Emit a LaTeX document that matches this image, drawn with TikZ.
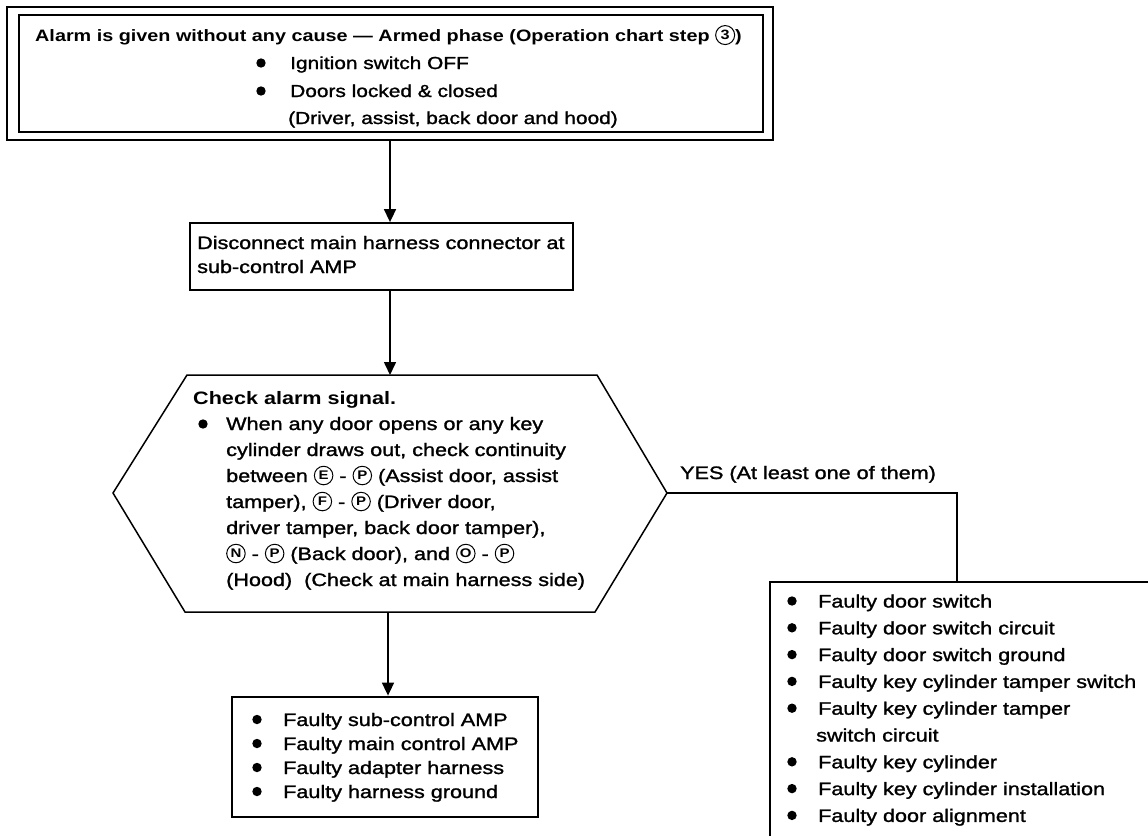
\documentclass[tikz,border=0pt]{standalone}
\usepackage{fontspec}
\setmainfont[FakeStretch=1.2,UprightFeatures={FakeBold=1.4}]{Liberation Sans}
\usetikzlibrary{calc,arrows.meta}
\newcommand\bodyf{\fontsize{18}{21}\selectfont}
\newcommand\topf{\fontsize{17.4}{20}\selectfont}
\newcommand\titf{\fontsize{16.5}{19}\selectfont\bfseries}
\newcommand\cl[1]{\tikz[baseline={([yshift=-0.36em]current bounding box.center)}]\node[draw,circle,line width=1pt,inner sep=0pt,minimum size=18.5pt,font=\fontsize{12.5}{12.5}\selectfont\bfseries]{#1};}
\newcommand\clb[1]{\tikz[baseline={([yshift=-0.36em]current bounding box.center)}]\node[draw,circle,line width=1pt,inner sep=0pt,minimum size=19pt,font=\fontsize{13.5}{13.5}\selectfont]{#1};}
\tikzset{
  box/.style={draw,line width=1.8pt,inner sep=0pt},
  heavy/.style={draw,line width=2.8pt,inner sep=0pt},
  ln/.style={anchor=base west,inner sep=0pt,font=\bodyf},
  tln/.style={anchor=base west,inner sep=0pt,font=\topf},
  arr/.style={line width=1.6pt,-{Triangle[width=12pt,length=13pt]}},
  con/.style={line width=1.6pt}
}
\begin{document}
\begin{tikzpicture}[x=1pt,y=-1pt]
\useasboundingbox (0,0) rectangle (1148,835);
\clip (0,0) rectangle (1148,835);
\fill[white] (0,0) rectangle (1148,835);

% top box (double frame)
\node[box,line width=2.2pt,minimum width=744pt,minimum height=117pt] (top) at (391,73.5) {};
\draw[line width=1.4pt] ($(top.north west)+(-11,-7)$) rectangle ($(top.south east)+(9,7)$);
\coordinate (ob) at ($(top.south)+(0,7)$);
\node[anchor=base west,inner sep=0pt,font=\titf] (tt) at (35,41) {Alarm is given without any cause — Armed phase (Operation chart step \clb{3})};
\node[tln] (ta) at (290,69) {Ignition switch OFF};
\node[tln] (tb) at (290,97) {Doors locked \& closed};
\node[tln] (tc) at (288,124) {(Driver, assist, back door and hood)};
\fill (261,63) circle (4.7);
\fill (261,91) circle (4.7);

% box 2
\node[box,minimum width=383pt,minimum height=67pt] (b2) at (381.5,256.5) {};
\node[ln] (b2a) at (197,249) {Disconnect main harness connector at};
\node[ln] (b2b) at (197,273) {sub-control AMP};

% hexagon
\coordinate (hT) at (390,375);
\coordinate (hB) at (388,612);
\coordinate (hR) at (667,493);
\coordinate (hL) at (113,493);
\draw[line width=1.5pt,line join=miter] (187,375) -- (597,375) -- (hR) -- (595,612) -- (185,612) -- (hL) -- cycle;
\node[ln,font=\bodyf\bfseries] (h0) at (193,404) {Check alarm signal.};
\fill (203,424) circle (4.7);
\node[ln] (h1) at (226,430) {When any door opens or any key};
\node[ln] (h2) at (226,456) {cylinder draws out, check continuity};
\node[ln] (h3) at (226,482) {between \cl{E} - \cl{P} (Assist door, assist};
\node[ln] (h4) at (226,508) {tamper), \cl{F} - \cl{P} (Driver door,};
\node[ln] (h5) at (226,534) {driver tamper, back door tamper),};
\node[ln] (h6) at (226,560) {\cl{N} - \cl{P} (Back door), and \cl{O} - \cl{P}};
\node[ln] (h7) at (226,586) {(Hood)\ \ (Check at main harness side)};

% bottom box
\node[heavy,minimum width=306pt,minimum height=120pt] (bb) at (385,757) {};
\foreach \t [count=\i] in {Faulty sub-control AMP,Faulty main control AMP,Faulty adapter harness,Faulty harness ground}{
  \node[ln] (bl\i) at (283,702+24*\i) {\t};
  \fill (257,695.5+24*\i) circle (4.7);
}

% right box
\node[heavy,minimum width=400pt,minimum height=280pt] (rb) at (970,722) {};
\coordinate (yc) at (957,493);
\node[ln] (yes) at (680,479) {YES (At least one of them)};
\foreach \t/\j in {Faulty door switch/0,Faulty door switch circuit/1,Faulty door switch ground/2,Faulty key cylinder tamper switch/3,Faulty key cylinder tamper/4,Faulty key cylinder/6,Faulty key cylinder installation/7,Faulty door alignment/8}{
  \node[ln] (r\j) at (818,607.5+26.8*\j) {\t};
  \fill (792,601+26.8*\j) circle (4.7);
}
\node[ln] (r5) at (816,741.5) {switch circuit};

% connectors
\draw[arr] (ob -| hT) -- (hT |- b2.north);
\draw[arr] (b2.south -| hT) -- (hT);
\draw[arr] (hB) -- (hB |- bb.north);
\draw[con] (hR) -- (yc) -- (yc |- rb.north);
\end{tikzpicture}
\end{document}
